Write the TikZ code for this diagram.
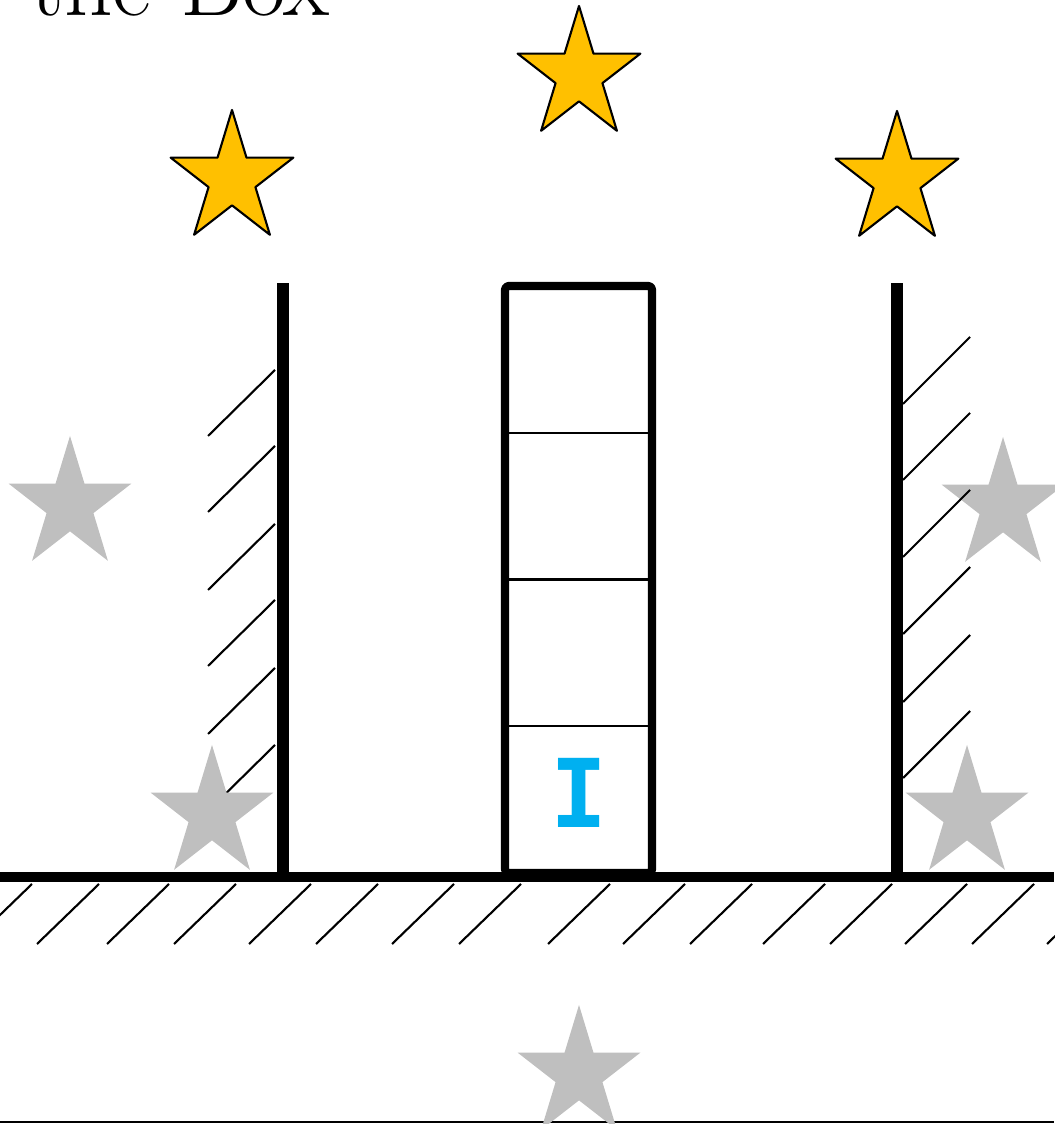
\documentclass[tikz,border=0pt]{standalone}
\usepackage{fontspec}
\newfontfamily\letterfont{DejaVu Sans Mono}
\usetikzlibrary{shapes.geometric}
\definecolor{stargold}{HTML}{FFC000}
\definecolor{stargray}{HTML}{BFBFBF}
\definecolor{letterblue}{HTML}{00B0F0}
\begin{document}
\begin{tikzpicture}[
    line join=round,
    basestar/.style={star, star points=5, star point ratio=2.618, minimum size=1.29cm,
        inner sep=0pt, yscale=1.07, transform shape},
    goldstar/.style={basestar, fill=stargold, draw=black, line width=0.6pt},
    graystar/.style={basestar, fill=stargray},
    wall/.style={line width=3.3pt},
    hatch/.style={line width=0.6pt}
]
    \useasboundingbox (0,0) rectangle (10.54,11.24);

    % title
    \node[anchor=base east, inner sep=0pt, font=\fontsize{27}{30}\selectfont] (title) at (3.30,11.08) {the Box};

    % bottom line
    \draw[line width=0.6pt] (0,0.02) -- (10.54,0.02);

    % ground
    \draw[line width=2.9pt] (0,2.47) -- (10.54,2.47);
    \foreach \xb in {-0.30,0.37,1.07,1.74,2.49,3.16,3.92,4.59,5.48,6.23,6.90,7.63,8.30,9.05,9.72,10.47}
        \draw[hatch] (\xb,1.80) -- ++(0.62,0.60);

    % walls
    \draw[wall] (2.83,2.47) -- (2.83,8.41);
    \draw[wall] (8.97,2.47) -- (8.97,8.41);

    % left wall hatching
    \foreach \yt in {7.54,6.78,6.00,5.24,4.56,3.79}
        \draw[hatch] (2.75,\yt) -- ++(-0.67,-0.66);

    % the box
    \def\bl{5.05}
    \def\br{6.52}
    \def\bb{2.51}
    \def\bt{8.38}
    \pgfmathsetmacro\cellh{(\bt-\bb)/4}
    \foreach \k in {1,2,3}
        \draw[line width=0.6pt] (\bl,\bb+\k*\cellh) -- (\br,\bb+\k*\cellh);
    \draw[line width=2.3pt, rounded corners=1pt] (\bl,\bb) rectangle (\br,\bt);
    \node[text=letterblue, inner sep=0pt, font=\fontsize{27}{27}\selectfont\letterfont\bfseries] (letter) at (5.79,3.31) {I};

    % gold stars
    \node[goldstar] (g1) at (2.32,9.45) {};
    \node[goldstar] (g2) at (5.79,10.49) {};
    \node[goldstar] (g3) at (8.97,9.44) {};

    % gray stars
    \node[graystar] (s1) at (0.70,6.19) {};
    \node[graystar] (s2) at (2.12,3.10) {};
    \node[graystar] (s3) at (10.03,6.18) {};
    \node[graystar] (s4) at (9.67,3.10) {};
    \node[graystar] (s5) at (5.79,0.50) {};

    % right wall hatching
    \foreach \yb in {7.20,6.44,5.67,4.90,4.22,3.46}
        \draw[hatch] (9.03,\yb) -- ++(0.67,0.67);

\end{tikzpicture}
\end{document}
